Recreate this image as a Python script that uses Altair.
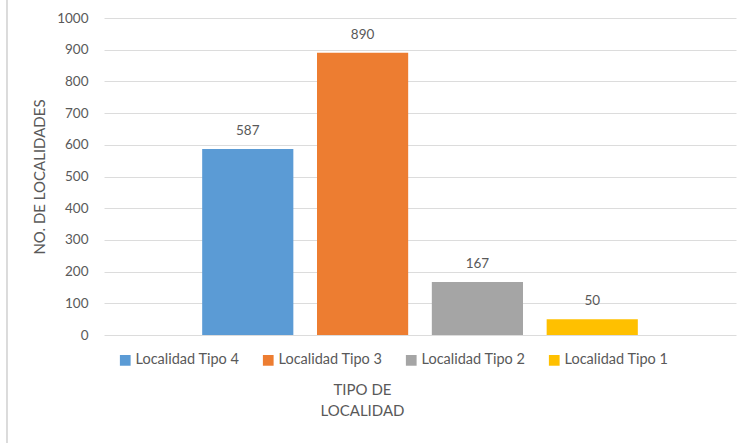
import altair as alt
import pandas as pd

series = ["Localidad Tipo 4", "Localidad Tipo 3", "Localidad Tipo 2", "Localidad Tipo 1"]
values = [587, 890, 167, 50]
colors = ["#5B9BD5", "#ED7D31", "#A5A5A5", "#FFC000"]
y_ticks = [0, 100, 200, 300, 400, 500, 600, 700, 800, 900, 1000]

df = pd.DataFrame({"serie": series, "valor": values})
FONT = "Lato"
GREY = "#595959"

x_enc = alt.X(
    "serie:N",
    sort=series,
    scale=alt.Scale(paddingInner=0.206, paddingOuter=0.855),
    axis=alt.Axis(
        labels=False, ticks=False, domain=False,
        title=["TIPO DE", "LOCALIDAD"],
        titleFont=FONT, titleFontSize=15, titleFontWeight="normal", titleColor=GREY,
        titleX=258, titleY=47, titleBaseline="top", titleLineHeight=21,
    ),
)

y_enc = alt.Y(
    "valor:Q",
    scale=alt.Scale(domain=[0, 1000], nice=False),
    axis=alt.Axis(
        values=y_ticks, tickCount=len(y_ticks) + 5, format="d", labelOverlap=False,
        domain=False, ticks=False, gridColor="#dcdcdc", gridWidth=1,
        labelFont=FONT, labelFontSize=13.5, labelColor=GREY, labelPadding=16,
        title="NO. DE LOCALIDADES", titleFont=FONT, titleFontSize=15,
        titleFontWeight="normal", titleColor=GREY, titleX=-57,
    ),
)

bars = alt.Chart(df).mark_bar().encode(
    x=x_enc,
    y=y_enc,
    color=alt.Color(
        "serie:N",
        sort=series,
        scale=alt.Scale(domain=series, range=colors),
        legend=alt.Legend(
            orient="none", direction="horizontal", legendX=14, legendY=335,
            title=None, symbolType="square", symbolSize=115, symbolStrokeWidth=0,
            labelFont=FONT, labelFontSize=14.5, labelColor=GREY, columnPadding=21,
            labelOffset=3,
        ),
    ),
)

labels = alt.Chart(df).mark_text(
    font=FONT, fontSize=13.5, color=GREY, baseline="middle", dy=-18
).encode(x=x_enc, y=y_enc, text="valor:Q")

frame = alt.Chart(df).mark_rule(color="#d9d9d9", strokeWidth=1).encode(
    x=alt.value(-97), y=alt.value(-18), y2=alt.value(425)
)

chart = alt.layer(bars, labels, frame).properties(
    width=632, height=317,
    autosize=alt.AutoSizeParams(type="none"),
    padding={"left": 104, "top": 18, "right": 14, "bottom": 108},
    background="white",
).configure_view(stroke=None)

chart.save("out.html", embed_options={"renderer": "svg", "actions": False})
